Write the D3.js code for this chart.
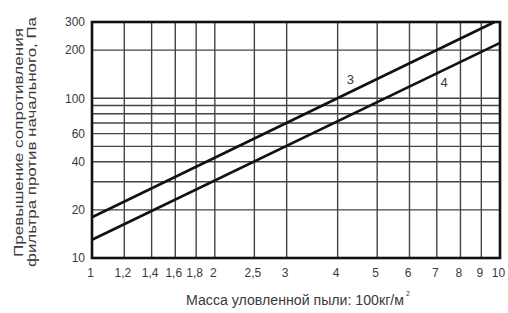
<!DOCTYPE html>
<html>
<head>
<meta charset="utf-8">
<script src="https://cdn.jsdelivr.net/npm/d3@7"></script>
<style>
  body { margin: 0; background: #fff; }
  text { font-family: "Liberation Sans", Arial, sans-serif; fill: #3a3a3a; }
</style>
</head>
<body>
<svg id="chart" width="508" height="313"></svg>
<script>
// x grid / labels
const xTicks = [1, 1.2, 1.4, 1.6, 1.8, 2, 2.5, 3, 4, 5, 6, 7, 8, 9, 10];
// y grid and labelled values
const yGrid = [10, 20, 30, 40, 50, 60, 70, 80, 90, 100, 200, 300];
const yLabels = [10, 20, 40, 60, 100, 200, 300];

// curves 3 and 4 (straight on log-log)
const curve3 = [[1, 18], [9.7, 300]];
const curve4 = [[1, 13], [10, 222]];
const curveNames = ["3", "4"];
const namePos = [[4.3, 132], [7.3, 126]];

const yTitle = ["Превышение сопротивления", "фильтра против начального, Па"];
const xTitle = "Масса уловленной пыли: 100кг/м";

const margin = {top: 22, right: 8, bottom: 55, left: 92};
const width = 508 - margin.left - margin.right,
      height = 313 - margin.top - margin.bottom;

const svg = d3.select('#chart');
const g = svg.append('g').attr('transform', `translate(${margin.left},${margin.top})`);

const x = d3.scaleLog().domain([1, 10]).range([0, width]);
const y = d3.scaleLog().domain([10, 300]).range([height, 0]);

const fmt = d => String(d).replace('.', ',');

// grid
g.selectAll('.vgrid')
    .data(xTicks)
    .enter().append('line')
    .attr('x1', d => x(d)).attr('x2', d => x(d))
    .attr('y1', 0).attr('y2', height)
    .attr('stroke', '#444')
    .attr('stroke-width', 1.4);

g.selectAll('.hgrid')
    .data(yGrid)
    .enter().append('line')
    .attr('x1', 0).attr('x2', width)
    .attr('y1', d => y(d)).attr('y2', d => y(d))
    .attr('stroke', '#444')
    .attr('stroke-width', 1.4);

// axes (labels only)
const xAxis = g.append('g')
    .attr('transform', `translate(0,${height})`)
    .call(d3.axisBottom(x).tickValues(xTicks).tickFormat(fmt).tickSize(0).tickPadding(10));
xAxis.select('.domain').remove();
xAxis.selectAll('text')
    .attr('dx', -2)
    .style('font-size', '12px')
    .style('font-family', '"Liberation Sans", Arial, sans-serif')
    .attr('fill', '#3a3a3a');

const yAxis = g.append('g')
    .call(d3.axisLeft(y).tickValues(yLabels).tickFormat(d3.format('d')).tickSize(0).tickPadding(7));
yAxis.select('.domain').remove();
yAxis.selectAll('text')
    .style('font-size', '12px')
    .style('font-family', '"Liberation Sans", Arial, sans-serif')
    .attr('fill', '#3a3a3a');

// frame
g.append('rect')
    .attr('width', width)
    .attr('height', height)
    .attr('fill', 'none')
    .attr('stroke', '#111')
    .attr('stroke-width', 2.6);

// curves
const line = d3.line().x(d => x(d[0])).y(d => y(d[1]));
g.selectAll('.curve')
    .data([curve3, curve4])
    .enter().append('path')
    .attr('d', line)
    .attr('fill', 'none')
    .attr('stroke', '#111')
    .attr('stroke-width', 2.6);

g.selectAll('.cname')
    .data(curveNames)
    .enter().append('text')
    .attr('x', (d, i) => x(namePos[i][0]))
    .attr('y', (d, i) => y(namePos[i][1]))
    .attr('text-anchor', 'middle')
    .attr('dy', '0.35em')
    .style('font-size', '13px')
    .text(d => d);

// y title, two rotated lines
svg.append('g')
    .selectAll('text')
    .data(yTitle)
    .enter().append('text')
    .attr('transform', (d, i) => `translate(${[23, 36][i]},${[142.5, 142][i]}) rotate(-90)`)
    .attr('text-anchor', 'middle')
    .attr('textLength', (d, i) => [229, 250][i])
    .attr('lengthAdjust', 'spacingAndGlyphs')
    .style('font-size', '12px')
    .text(d => d);

// x title with superscript
svg.append('text')
    .attr('x', 186)
    .attr('y', 305)
    .attr('textLength', 218)
    .attr('lengthAdjust', 'spacingAndGlyphs')
    .style('font-size', '14px')
    .text(xTitle);
svg.append('text')
    .attr('x', 406)
    .attr('y', 296)
    .style('font-size', '7px')
    .text('2');
</script>
</body>
</html>
